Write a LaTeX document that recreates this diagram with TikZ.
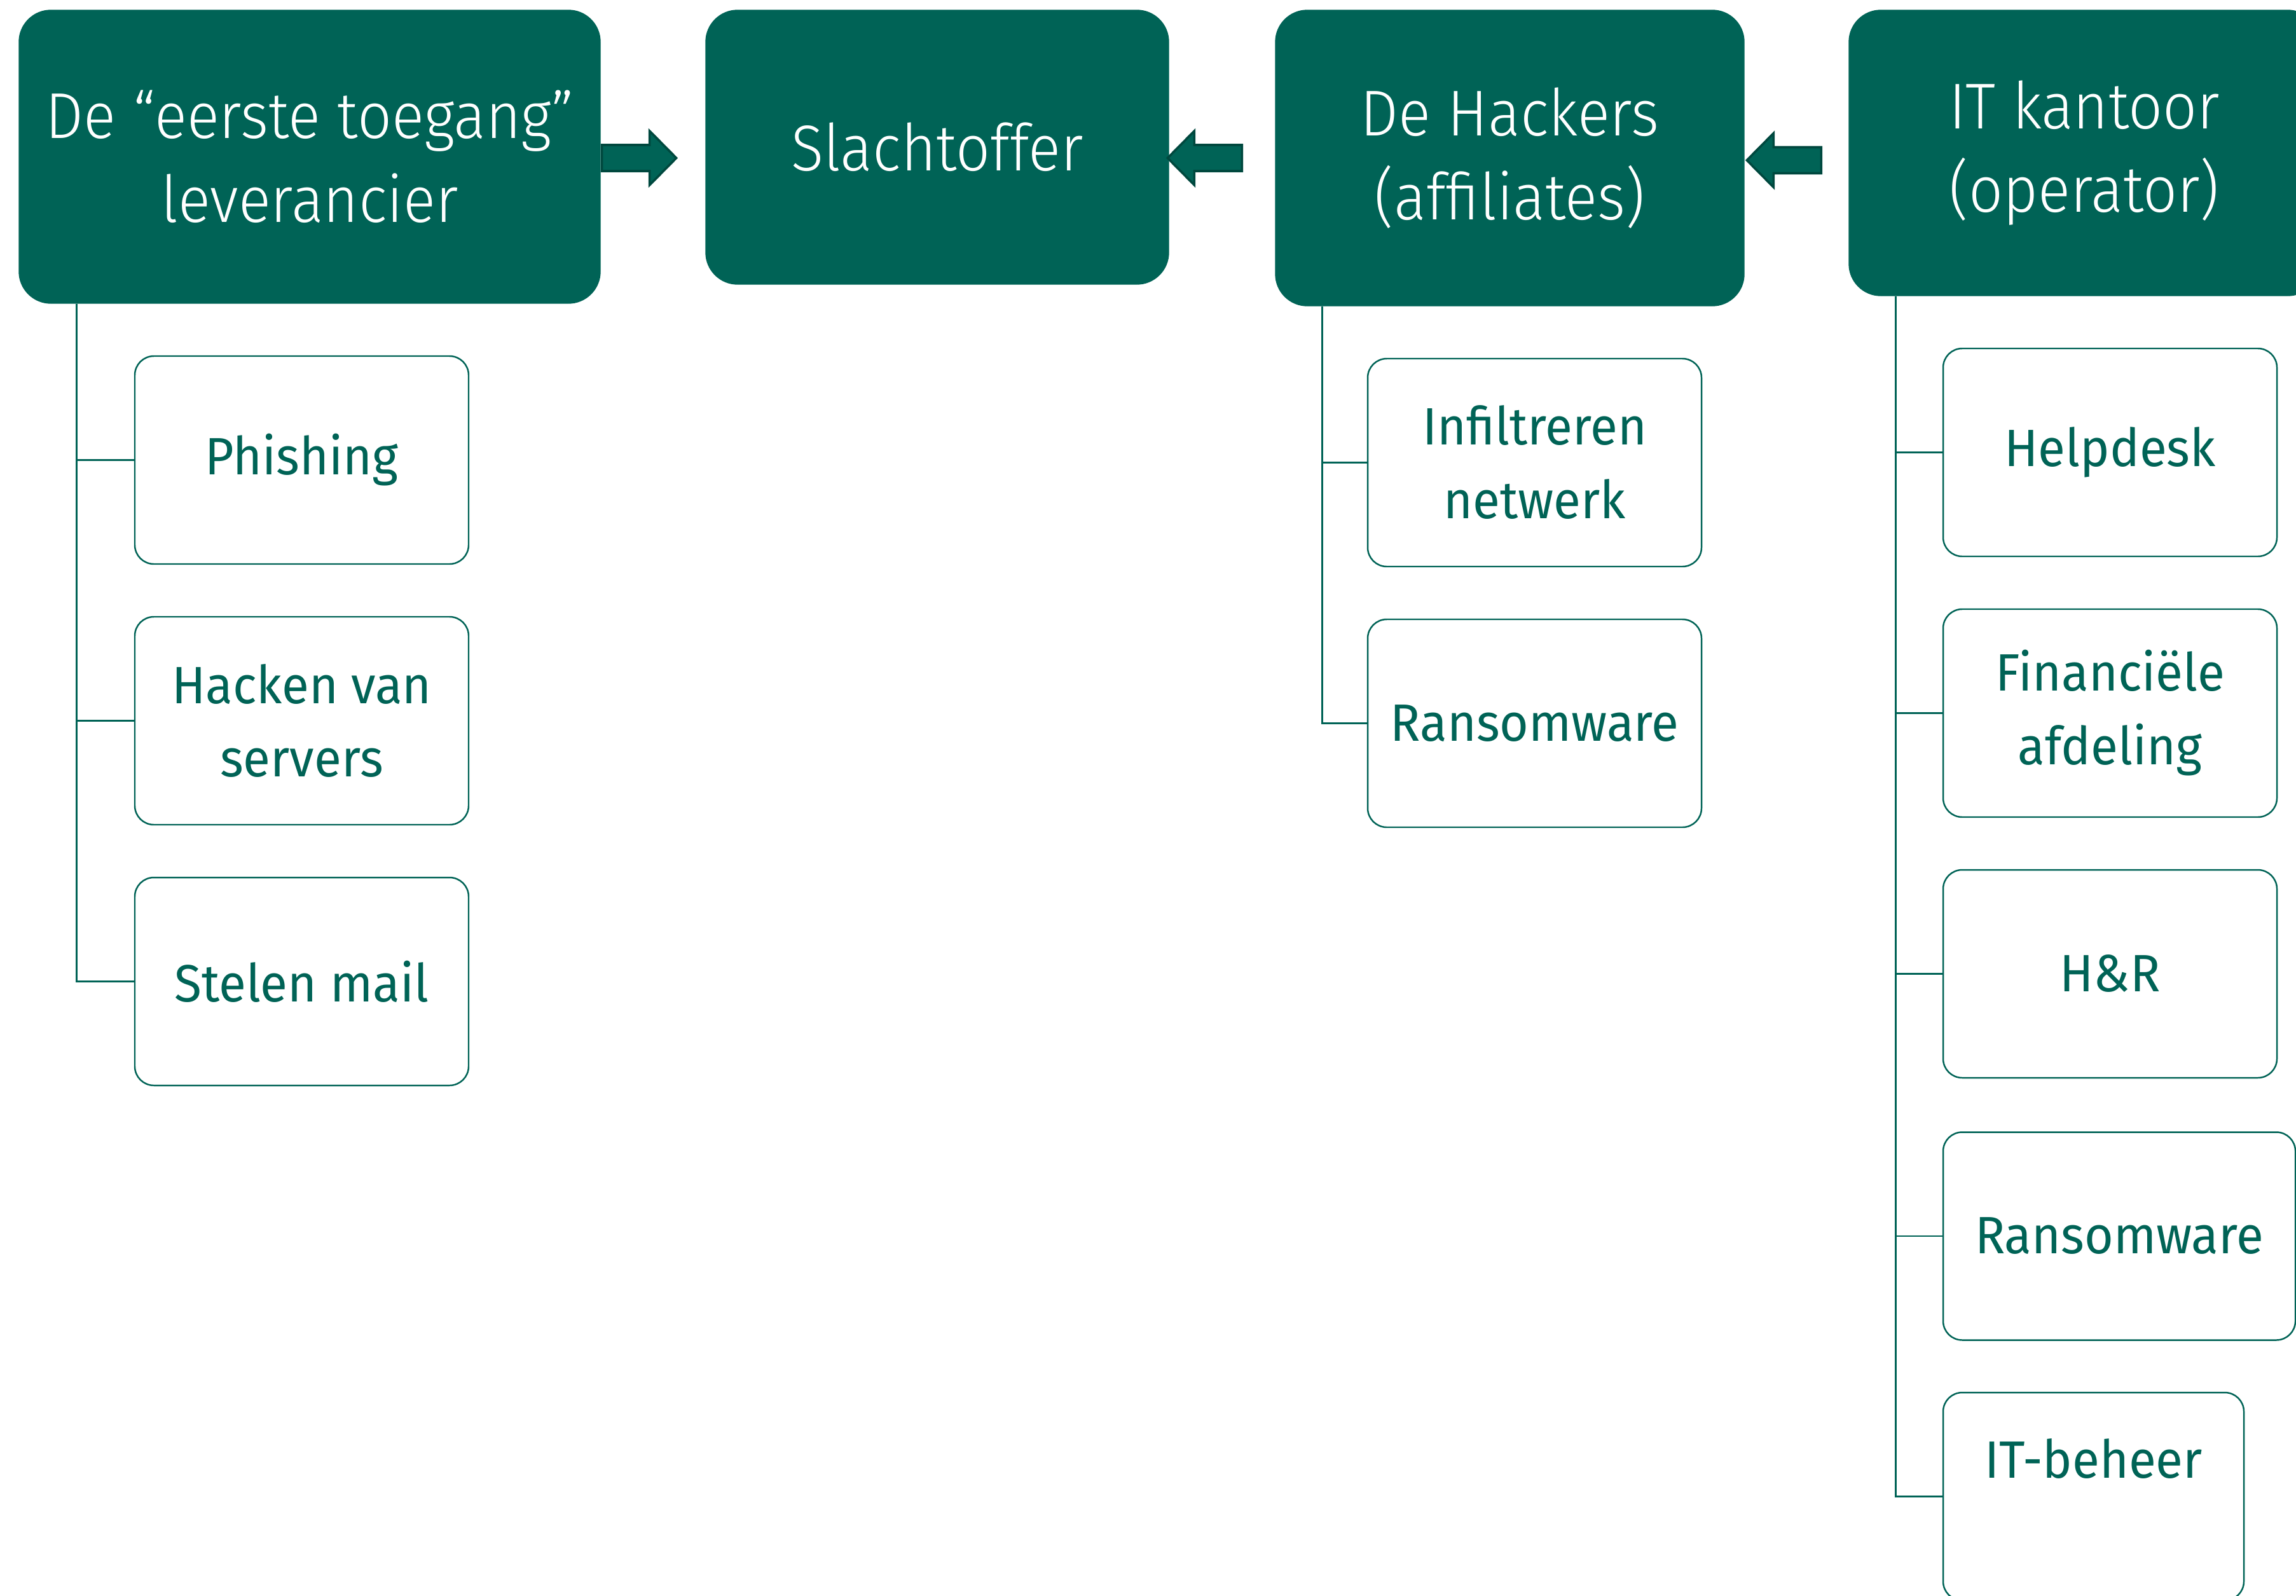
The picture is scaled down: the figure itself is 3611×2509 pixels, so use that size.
\documentclass[tikz,border=0pt]{standalone}
\usepackage{fontspec}
\setmainfont{Fira Sans}
\newfontfamily\kopfont{Fira Sans}[UprightFont=* Light, FakeStretch=0.93]
\newfontfamily\taakfont{Fira Sans}[FakeStretch=0.95]
\usetikzlibrary{calc,positioning}
\definecolor{groen}{RGB}{0,99,86}
\definecolor{donkergroen}{RGB}{0,72,62}

\begin{document}
\begin{tikzpicture}[x=0.1mm, y=-0.1mm,
    hoofd/.style={fill=groen, draw=groen, rounded corners=5mm, text=white, align=center, font=\kopfont\fontsize{29}{37.5}\selectfont},
    taak/.style={draw=groen, line width=0.7pt, rounded corners=3mm, text=groen, align=center, minimum width=52.5mm, minimum height=32.7mm, font=\taakfont\fontsize{23.5}{33}\selectfont},
    tak/.style={draw=groen, line width=0.8pt},
    pijl/.style={fill=groen, draw=donkergroen, line width=1pt, line join=miter}]
  \useasboundingbox (0,0) rectangle (3611,2509);
  \clip (0,0) rectangle (3611,2509);
  % bovenste rij
  \node[hoofd, minimum width=91.4mm, minimum height=46.1mm] (leverancier) at (487,246.5) {De “eerste toegang”\\leverancier};
  \node[hoofd, minimum width=72.8mm, minimum height=43.1mm] (slachtoffer) at (1474,231.5) {Slachtoffer};
  \node[hoofd, minimum width=73.7mm, minimum height=46.5mm] (hackers) at (2374.5,248.5) {De Hackers\\(affiliates)};
  \node[hoofd, minimum width=74mm, minimum height=44.9mm] (kantoor) at (3278,240.5) {IT kantoor\\(operator)};
  % pijlen tussen de blokken
  \draw[pijl] ($(leverancier.east)+(2,2)$) -- ++(0,-20.5) -- ++(75,0) -- ++(0,-22) -- ++(42,42.5) -- ++(-42,42.5) -- ++(0,-22) -- ++(-75,0) -- cycle;
  \draw[pijl] ($(hackers.west)+(-52,0)$) -- ++(0,-20.5) -- ++(-75,0) -- ++(0,-22) -- ++(-42,42.5) -- ++(42,42.5) -- ++(0,-22) -- ++(75,0) -- cycle;
  \draw[pijl] ($(kantoor.west)+(-43,11.5)$) -- ++(0,-20.5) -- ++(-75,0) -- ++(0,-22) -- ++(-42,42.5) -- ++(42,42.5) -- ++(0,-22) -- ++(75,0) -- cycle;
  % taken leverancier
  \node[taak] (phishing) at (474.5,723.5) {Phishing};
  \node[taak] (hacken) at (474.5,1133.5) {Hacken van\\servers};
  \node[taak] (stelen) at (474.5,1543.5) {Stelen mail};
  % taken hackers
  \node[taak] (infiltreren) at (2413.5,727.5) {Infiltreren\\netwerk};
  \node[taak] (ransomhack) at (2413.5,1137.5) {Ransomware};
  % taken kantoor
  \node[taak] (helpdesk) at (3318.5,711.5) {Helpdesk};
  \node[taak] (financieel) at (3318.5,1121.5) {Financiële\\afdeling};
  \node[taak] (hr) at (3318.5,1531.5) {H\&R};
  \node[taak, minimum width=55.4mm] (ransomkantoor) at (3333,1944) {Ransomware};
  \node[taak, minimum width=47.3mm, text depth=12mm] (beheer) at (3292.5,2353.5) {IT-beheer};
  % verbindingslijnen
  \draw[tak] ($(leverancier.south west)!0.1!(leverancier.south east)$) coordinate (stam1) |- (stelen.west);
  \draw[tak] (stam1 |- phishing.west) -- (phishing.west);
  \draw[tak] (stam1 |- hacken.west) -- (hacken.west);
  \draw[tak] ($(hackers.south west)!0.1!(hackers.south east)$) coordinate (stam2) |- (ransomhack.west);
  \draw[tak] (stam2 |- infiltreren.west) -- (infiltreren.west);
  \draw[tak] ($(kantoor.south west)!0.1!(kantoor.south east)$) coordinate (stam3) |- (beheer.west);
  \foreach \t in {helpdesk,financieel,hr,ransomkantoor}
    \draw[tak] (stam3 |- \t.west) -- (\t.west);
\end{tikzpicture}
\end{document}
